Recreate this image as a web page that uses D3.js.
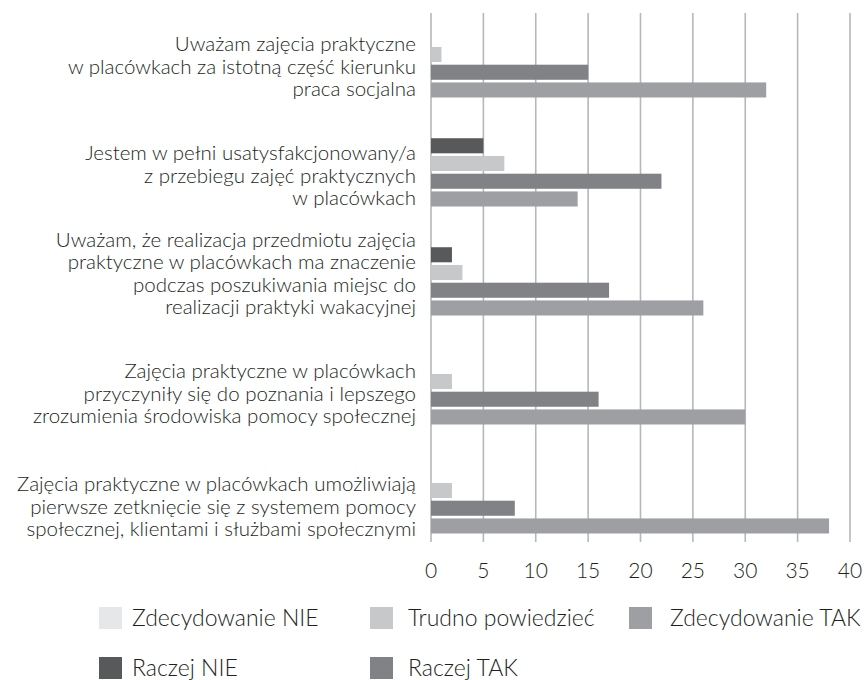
<!DOCTYPE html>
<html>
<head>
<meta charset="utf-8">
<script src="https://cdn.jsdelivr.net/npm/d3@7"></script>
<style>
  html, body { margin: 0; padding: 0; background: #fff; }
  svg { display: block; font-family: Lato, "Open Sans", sans-serif; font-weight: 300; }
</style>
</head>
<body>
<svg id="chart" width="864" height="680"></svg>
<script>
// categories (each one split into its printed lines)
var questions = [
  ["Uważam zajęcia praktyczne", "w placówkach za istotną część kierunku", "praca socjalna"],
  ["Jestem w pełni usatysfakcjonowany/a", "z przebiegu zajęć praktycznych", "w placówkach"],
  ["Uważam, że realizacja przedmiotu zajęcia", "praktyczne w placówkach ma znaczenie", "podczas poszukiwania miejsc do", "realizacji praktyki wakacyjnej"],
  ["Zajęcia praktyczne w placówkach", "przyczyniły się do poznania i lepszego", "zrozumienia środowiska pomocy społecznej"],
  ["Zajęcia praktyczne w placówkach umożliwiają", "pierwsze zetknięcie się z systemem pomocy", "społecznej, klientami i służbami społecznymi"]
];

var seriesNames = ["Zdecydowanie NIE", "Raczej NIE", "Trudno powiedzieć", "Raczej TAK", "Zdecydowanie TAK"];
var zdecydowanieNie = [0, 0, 0, 0, 0];
var raczejNie = [0, 5, 2, 0, 0];
var trudnoPowiedziec = [1, 7, 3, 2, 2];
var raczejTak = [15, 22, 17, 16, 8];
var zdecydowanieTak = [32, 14, 26, 30, 38];
var seriesColors = ["#e6e7e8", "#58595b", "#c7c8ca", "#808285", "#9d9fa2"];

var xTicks = [0, 5, 10, 15, 20, 25, 30, 35, 40];

// legend is read row by row: indexes into seriesNames
var legendRows = [[0, 2, 4], [1, 3]];

var values = [zdecydowanieNie, raczejNie, trudnoPowiedziec, raczejTak, zdecydowanieTak];

var svg = d3.select("#chart");

var x = d3.scaleLinear().domain([0, 40]).range([431, 850]);

var y0 = d3.scaleBand()
  .domain(d3.range(questions.length))
  .range([0, 545])
  .paddingInner(0.211)
  .paddingOuter(0.1055);

var y1 = d3.scaleBand()
  .domain(d3.range(seriesNames.length))
  .range([0, y0.bandwidth()])
  .paddingInner(0.15);

// grid lines
svg.append("g")
  .selectAll("line")
  .data(xTicks)
  .join("line")
  .attr("x1", function (d) { return x(d); })
  .attr("x2", function (d) { return x(d); })
  .attr("y1", 13)
  .attr("y2", 542)
  .attr("stroke", "#b6b7ba")
  .attr("stroke-width", 1.6);

// tick labels
svg.append("g")
  .selectAll("text")
  .data(xTicks)
  .join("text")
  .attr("x", function (d) { return x(d); })
  .attr("y", 578)
  .attr("text-anchor", "middle")
  .attr("font-size", 21)
  .attr("fill", "#231f20")
  .text(function (d) { return d; });

// bars
var groups = svg.append("g")
  .selectAll("g")
  .data(questions)
  .join("g")
  .attr("transform", function (d, i) { return "translate(0," + y0(i) + ")"; });

groups.selectAll("rect")
  .data(function (d, i) {
    return values.map(function (s, k) { return { k: k, v: s[i] }; });
  })
  .join("rect")
  .attr("x", x(0))
  .attr("y", function (d) { return y1(d.k); })
  .attr("width", function (d) { return x(d.v) - x(0); })
  .attr("height", y1.bandwidth())
  .attr("fill", function (d) { return seriesColors[d.k]; });

// category labels, last line sits near the bottom of the group
var lineH = 22.6;
groups.append("text")
  .attr("text-anchor", "end")
  .attr("font-size", 20.5)
  .attr("fill", "#231f20")
  .each(function (d, i) {
    var t = d3.select(this);
    var lastY = y0.bandwidth() - 1 + (i == 4 ? 4 : 0);
    d.forEach(function (line, j) {
      t.append("tspan")
        .attr("x", 416)
        .attr("y", lastY - (d.length - 1 - j) * lineH)
        .text(line);
    });
  });

// legend
var legendBoxX = [99, 370, 629];
var legendTextX = [132, 408, 670];
var legendY = [607, 657];
legendRows.forEach(function (row, r) {
  row.forEach(function (k, c) {
    var g = svg.append("g")
      .attr("transform", "translate(0," + legendY[r] + ")");
    g.append("rect")
      .attr("x", legendBoxX[c])
      .attr("width", 23)
      .attr("height", 22)
      .attr("fill", seriesColors[k]);
    g.append("text")
      .attr("x", legendTextX[c])
      .attr("y", 19)
      .attr("font-size", 23)
      .attr("fill", "#231f20")
      .text(seriesNames[k]);
  });
});
</script>
</body>
</html>
